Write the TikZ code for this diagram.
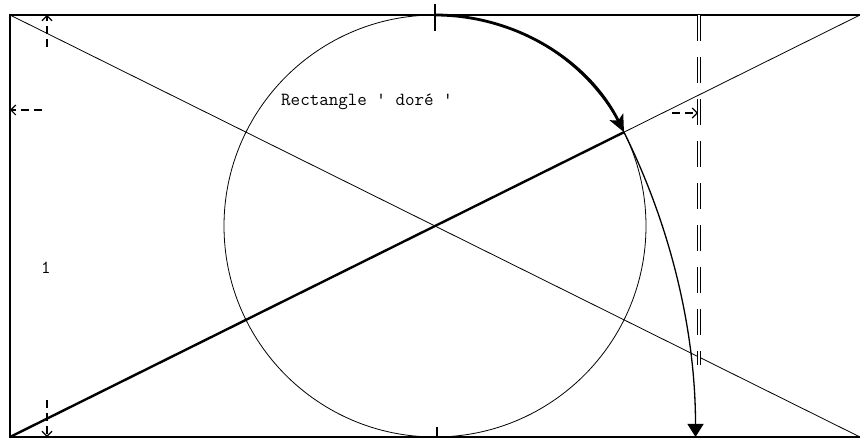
\documentclass[tikz,border=0pt]{standalone}
\usetikzlibrary{arrows.meta,calc}
\begin{document}
\begin{tikzpicture}[x=1pt,y=1pt,
  frame/.style={line width=1.7pt},
  thinline/.style={line width=0.8pt},
  boldline/.style={line width=2.4pt},
  dimarrow/.style={line width=1.1pt, dash pattern=on 8pt off 5pt, -{Straight Barb[length=5pt,width=10pt]}},
  lbl/.style={font=\ttfamily\fontsize{18.5}{20}\selectfont, inner sep=0pt}
]
\useasboundingbox (0,0) rectangle (860,440);
\coordinate (TL) at (10,425);
\coordinate (BL) at (10,3);
\coordinate (TR) at (860,425);
\coordinate (BR) at (860,3);
\coordinate (C) at (435,214);
\coordinate (Ctop) at (435,425);
\coordinate (P) at ($(C)+(26.4:211)$);
\draw[frame] (TR) -- (TL) -- (BL) -- (BR);
\draw[thinline] (TL) -- (BR);
\draw[thinline] (BL) -- (TR);
\draw[thinline] (C) circle (211);
\draw[boldline] (BL) -- (P);
\draw[line width=2.8pt, -{Stealth[length=17pt,width=15pt,inset=4pt]}] (Ctop) arc (90:26.4:211);
\draw[line width=1.3pt, -{Triangle[length=13pt,width=16pt]}] (P) arc (26.4:0:685.5);
% ticks
\coordinate (t1a) at (435,436); \coordinate (t1b) at (435,409);
\draw[line width=1.1pt] (t1a) -- (t1b);
\coordinate (t2a) at (437,3); \coordinate (t2b) at (437,13);
\draw[line width=1.1pt] (t2a) -- (t2b);
% golden side
\coordinate (g1) at (699,425); \coordinate (g2) at (699,75);
\draw[line width=0.8pt, dash pattern=on 26pt off 16pt, double, double distance=2.2pt] (g1) -- (g2);
% dimension arrows
\coordinate (a1) at (47,393); \coordinate (a1e) at (47,425);
\draw[dimarrow] (a1) -- (a1e);
\coordinate (a2) at (47,40); \coordinate (a2e) at (47,3);
\draw[dimarrow] (a2) -- (a2e);
\coordinate (a3) at (42,330); \coordinate (a3e) at (10,330);
\draw[dimarrow] (a3) -- (a3e);
\coordinate (a4) at (672,327); \coordinate (a4e) at (698,327);
\draw[dimarrow] (a4) -- (a4e);
\node[lbl, anchor=west] (title) at (281,338) {Rectangle ' doré '};
\node[lbl] (one) at (46,172) {1};
\end{tikzpicture}
\end{document}
